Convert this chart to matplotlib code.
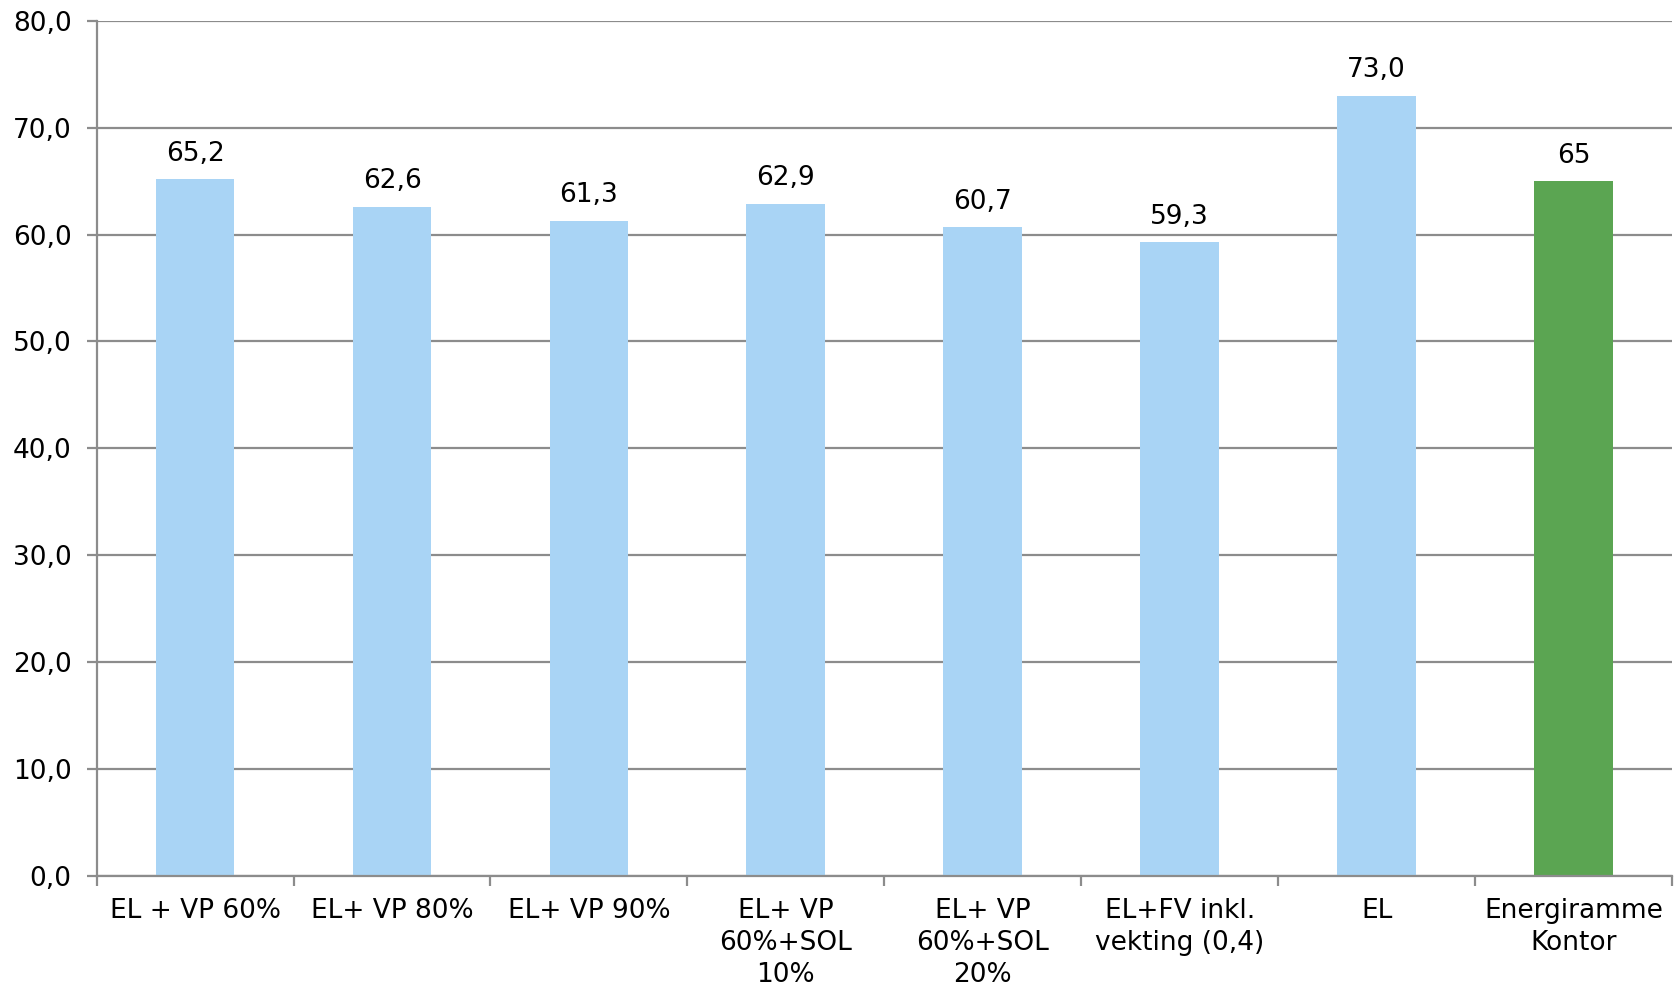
# Energibehov per løsning, stolpediagram
import numpy as np
import matplotlib.pyplot as plt

plt.rcParams['font.family'] = ['DejaVu Sans']

kategorier = ["EL + VP 60%", "EL+ VP 80%", "EL+ VP 90%", "EL+ VP\n60%+SOL\n10%",
              "EL+ VP\n60%+SOL\n20%", "EL+FV inkl.\nvekting (0,4)", "EL", "Energiramme\nKontor"]
verdier = [65.2, 62.6, 61.3, 62.9, 60.7, 59.3, 73.0, 65]
etiketter = ["65,2", "62,6", "61,3", "62,9", "60,7", "59,3", "73,0", "65"]
yticks = [0, 10, 20, 30, 40, 50, 60, 70, 80]

blaa = "#a9d4f5"
gronn = "#5ba552"
graa = "#8c8c8c"
fs = 19

fig = plt.figure(figsize=(16.78, 9.9), dpi=100)
ax = fig.add_axes([0.0576, 0.1155, 0.9388, 0.8633])

x = np.arange(len(kategorier))
farger = [blaa] * (len(kategorier) - 1) + [gronn]
ax.bar(x, verdier, width=0.4, color=farger, zorder=3)

# verdietiketter over stolpene
for xi, v, t in zip(x, verdier, etiketter):
    ax.annotate(t, (xi, v), xytext=(0, 9), textcoords="offset points",
                ha="center", va="bottom", fontsize=fs)

ax.set_xlim(-0.5, len(kategorier) - 0.5)
ax.set_ylim(0, 80)
ax.set_yticks(yticks)
ax.set_yticklabels([f"{v:.1f}".replace(".", ",") for v in yticks], fontsize=fs)
ax.yaxis.grid(True, color=graa, linewidth=1.6, zorder=0)

# hovedmerker mellom kategoriene, etiketter midt under stolpene
ax.set_xticks(np.arange(len(kategorier) + 1) - 0.5)
ax.set_xticklabels([])
ax.set_xticks(x, minor=True)
ax.set_xticklabels(kategorier, minor=True, fontsize=fs, linespacing=1.3)
ax.tick_params(axis="x", which="major", length=7, width=1.6, color=graa)
ax.tick_params(axis="x", which="minor", length=0, pad=16)
ax.tick_params(axis="y", length=7, width=1.6, color=graa, pad=11)

for s in ["top", "right"]:
    ax.spines[s].set_visible(False)
for s in ["left", "bottom"]:
    ax.spines[s].set_color(graa)
    ax.spines[s].set_linewidth(1.6)
    ax.spines[s].set_zorder(4)

fig.savefig("out.png", dpi=100)
